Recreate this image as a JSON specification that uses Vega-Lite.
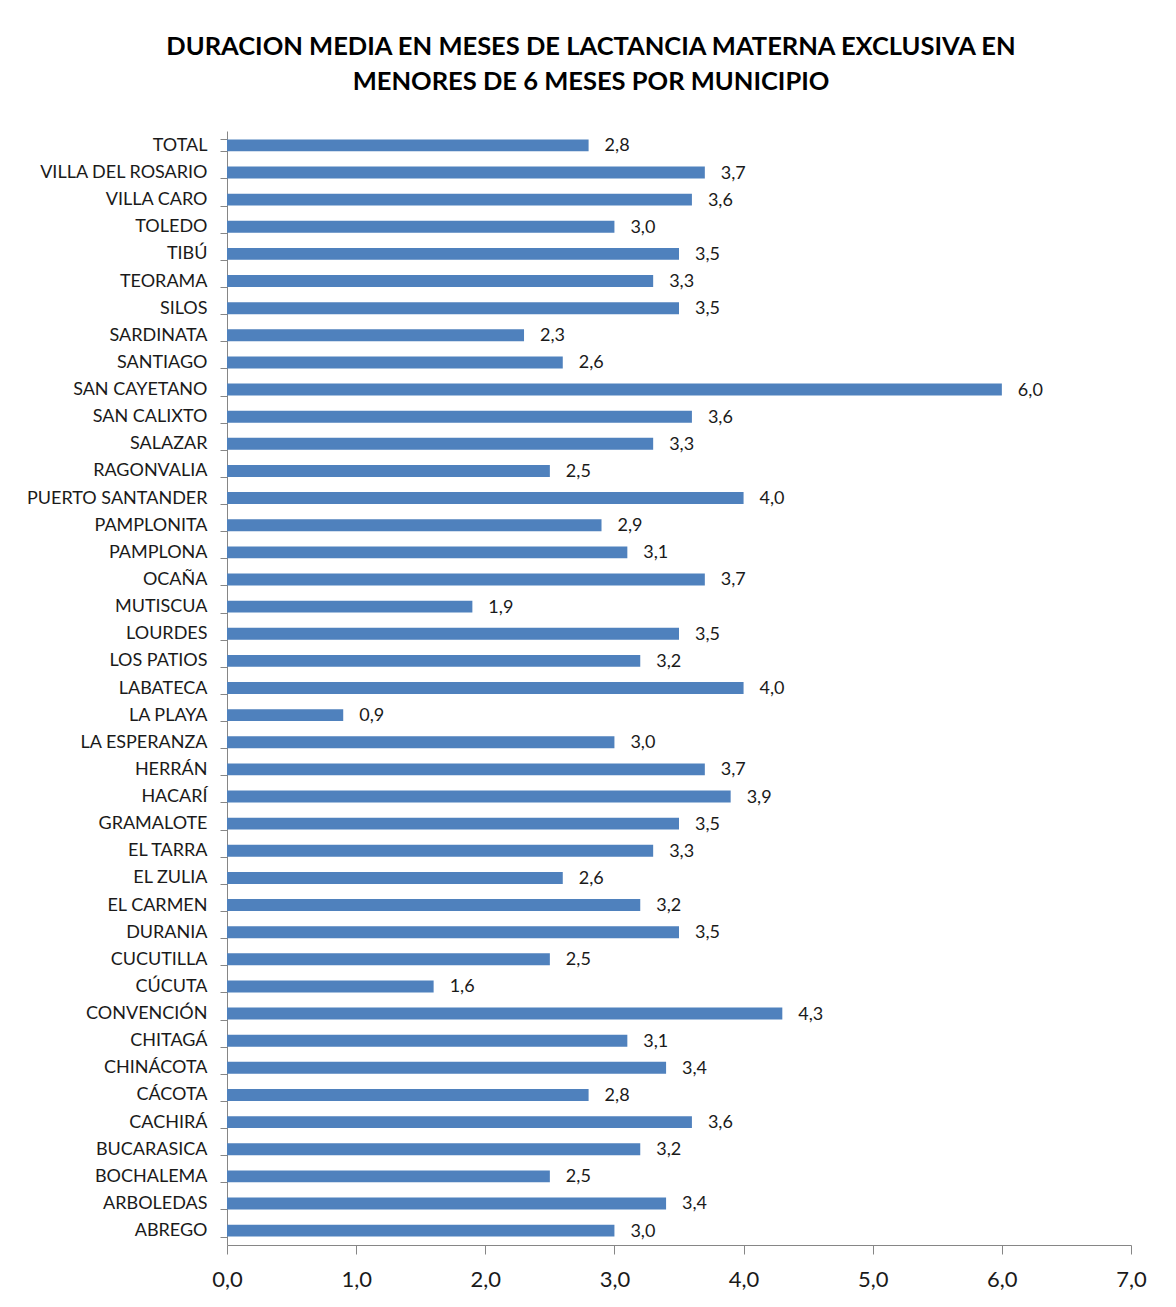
{
  "$schema": "https://vega.github.io/schema/vega-lite/v6.json",
  "autosize": "none",
  "width": 904,
  "height": 1114,
  "padding": {"left": 227, "top": 131, "right": 45, "bottom": 62},
  "background": "white",
  "title": {
    "text": ["DURACION MEDIA EN MESES DE LACTANCIA MATERNA EXCLUSIVA EN", "MENORES DE 6 MESES POR MUNICIPIO"],
    "font": "Lato",
    "fontSize": 25.5,
    "fontWeight": "bold",
    "color": "#000000",
    "anchor": "middle",
    "dx": -88,
    "lineHeight": 35,
    "offset": 27
  },
  "data": {
    "values": [
      {"municipio": "TOTAL", "valor": 2.8},
      {"municipio": "VILLA DEL ROSARIO", "valor": 3.7},
      {"municipio": "VILLA CARO", "valor": 3.6},
      {"municipio": "TOLEDO", "valor": 3.0},
      {"municipio": "TIBÚ", "valor": 3.5},
      {"municipio": "TEORAMA", "valor": 3.3},
      {"municipio": "SILOS", "valor": 3.5},
      {"municipio": "SARDINATA", "valor": 2.3},
      {"municipio": "SANTIAGO", "valor": 2.6},
      {"municipio": "SAN CAYETANO", "valor": 6.0},
      {"municipio": "SAN CALIXTO", "valor": 3.6},
      {"municipio": "SALAZAR", "valor": 3.3},
      {"municipio": "RAGONVALIA", "valor": 2.5},
      {"municipio": "PUERTO SANTANDER", "valor": 4.0},
      {"municipio": "PAMPLONITA", "valor": 2.9},
      {"municipio": "PAMPLONA", "valor": 3.1},
      {"municipio": "OCAÑA", "valor": 3.7},
      {"municipio": "MUTISCUA", "valor": 1.9},
      {"municipio": "LOURDES", "valor": 3.5},
      {"municipio": "LOS PATIOS", "valor": 3.2},
      {"municipio": "LABATECA", "valor": 4.0},
      {"municipio": "LA PLAYA", "valor": 0.9},
      {"municipio": "LA ESPERANZA", "valor": 3.0},
      {"municipio": "HERRÁN", "valor": 3.7},
      {"municipio": "HACARÍ", "valor": 3.9},
      {"municipio": "GRAMALOTE", "valor": 3.5},
      {"municipio": "EL TARRA", "valor": 3.3},
      {"municipio": "EL ZULIA", "valor": 2.6},
      {"municipio": "EL CARMEN", "valor": 3.2},
      {"municipio": "DURANIA", "valor": 3.5},
      {"municipio": "CUCUTILLA", "valor": 2.5},
      {"municipio": "CÚCUTA", "valor": 1.6},
      {"municipio": "CONVENCIÓN", "valor": 4.3},
      {"municipio": "CHITAGÁ", "valor": 3.1},
      {"municipio": "CHINÁCOTA", "valor": 3.4},
      {"municipio": "CÁCOTA", "valor": 2.8},
      {"municipio": "CACHIRÁ", "valor": 3.6},
      {"municipio": "BUCARASICA", "valor": 3.2},
      {"municipio": "BOCHALEMA", "valor": 2.5},
      {"municipio": "ARBOLEDAS", "valor": 3.4},
      {"municipio": "ABREGO", "valor": 3.0}
    ]
  },
  "transform": [
    {"calculate": "replace(format(datum.valor, '.1f'), '.', ',')", "as": "etiqueta"}
  ],
  "encoding": {
    "y": {
      "field": "municipio",
      "type": "nominal",
      "sort": null,
      "scale": {"paddingInner": 0.56, "paddingOuter": 0.31},
      "axis": {
        "title": null,
        "tickBand": "extent",
        "domainColor": "#868686",
        "tickColor": "#868686",
        "tickSize": 7,
        "labelPadding": 13,
        "labelFont": "Lato",
        "labelFontSize": 18,
        "labelColor": "#1a1a1a",
        "labelLimit": 300
      }
    },
    "x": {
      "field": "valor",
      "type": "quantitative",
      "scale": {"domain": [0, 7], "nice": false},
      "axis": {
        "title": null,
        "values": [0, 1, 2, 3, 4, 5, 6, 7],
        "labelExpr": "replace(format(datum.value, '.1f'), '.', ',')",
        "grid": false,
        "domainColor": "#868686",
        "tickColor": "#868686",
        "tickSize": 9,
        "labelPadding": 15,
        "labelFont": "Lato",
        "labelFontSize": 22,
        "labelColor": "#1a1a1a",
        "labelFlush": false
      }
    }
  },
  "layer": [
    {"mark": {"type": "bar", "color": "#4F81BD"}},
    {
      "mark": {"type": "text", "align": "left", "baseline": "middle", "dx": 16, "dy": 1, "font": "Lato", "fontSize": 18, "color": "#1a1a1a"},
      "encoding": {"text": {"field": "etiqueta"}}
    }
  ],
  "config": {"view": {"stroke": null}}
}
